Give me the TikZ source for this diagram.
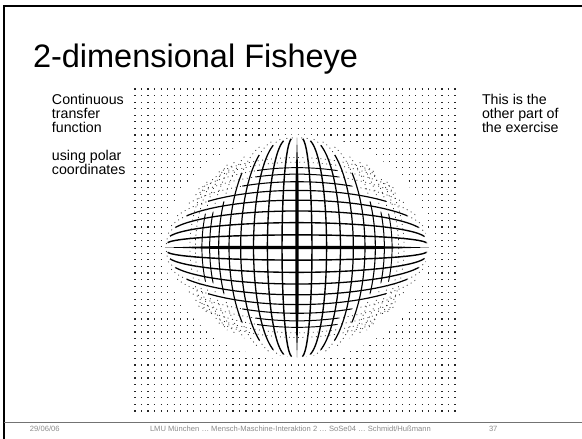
\documentclass[tikz,border=0pt]{standalone}
\usepackage{fontspec}
\setmainfont{Liberation Sans}
\pgfmathdeclarefunction{fishf}{2}{%
  \pgfmathparse{tanh(sqrt((#1)*(#1)+(#2)*(#2)))/sqrt((#1)*(#1)+(#2)*(#2))}}
\begin{document}
\begin{tikzpicture}[x=1pt,y=-1pt,
  every node/.style={inner sep=0pt, outer sep=0pt},
  title/.style={anchor=base west, font=\fontsize{32.5}{34}\selectfont},
  body/.style={anchor=base west, font=\fontsize{14.2}{15}\selectfont},
  foot/.style={anchor=base west, text=black!45, font=\fontsize{7.6}{8}\selectfont},
  dotrow/.style={line width=1.2pt, black!85, dash pattern=on 1.2pt off 5.33pt},
  fishthin/.style={line width=0.75pt, black!85, dash pattern=on 0.9pt off 3.6pt},
]
\useasboundingbox (0,0) rectangle (582,439);
\fill[white] (0,0) rectangle (582,439);
% slide frame
\draw[line width=2pt] (4,439) -- (4,6) -- (582,6);
\draw[black!55, line width=0.8pt] (4,422) -- (582,422);
% title
\node[title] (title) at (33,67) {2-dimensional Fisheye};
% left text
\node[body] (l1) at (52,104) {Continuous};
\node[body] (l2) at (52,118) {transfer};
\node[body] (l3) at (52,132) {function};
\node[body] (l4) at (52,160) {using polar};
\node[body] (l5) at (52,174) {coordinates};
% right text
\node[body] (r1) at (482,104) {This is the};
\node[body] (r2) at (482,118) {other part of};
\node[body] (r3) at (482,132) {the exercise};
% footer
\node[foot] (f1) at (30,431) {29/06/06};
\node[foot] (f2) at (150,431) {LMU München … Mensch-Maschine-Interaktion 2 … SoSe04 … Schmidt/Hußmann};
\node[foot] (f3) at (489,431) {37};
% outer dot grid
\foreach \j in {0,...,49} {
  \draw[dotrow] (134.4,{89+6.57*\j}) -- (455.6,{89+6.57*\j});
}
% fisheye region
\fill[white] (297,247.5) ellipse [x radius=133, y radius=113];
\begin{scope}
\clip (297,247.5) ellipse [x radius=132, y radius=111];
% magnified (solid) and compressed (dotted) parts of the grid lines
\foreach \k in {1,...,8} {
  \foreach \sg in {1,-1} {
    \pgfmathsetmacro\tt{\sg*0.115*\k}
    \pgfmathsetmacro\S{max(0.4,3-3.6*abs(\tt))}
    \pgfmathsetmacro\E{\S+0.9}
    \pgfmathsetmacro\lw{1.5-0.07*\k}
    % horizontal family
    \draw[line width=\lw pt] plot[domain=-\S:\S, samples=70, smooth]
      ({297+131*(\x)*fishf(\x,\tt)},{247.5+110*(\tt)*fishf(\x,\tt)});
    \draw[fishthin] plot[domain=\S:\E, samples=30, smooth]
      ({297+131*(\x)*fishf(\x,\tt)},{247.5+110*(\tt)*fishf(\x,\tt)});
    \draw[fishthin] plot[domain=-\E:-\S, samples=30, smooth]
      ({297+131*(\x)*fishf(\x,\tt)},{247.5+110*(\tt)*fishf(\x,\tt)});
    % vertical family
    \draw[line width=\lw pt] plot[domain=-\S:\S, samples=70, smooth]
      ({297+131*(\tt)*fishf(\x,\tt)},{247.5+110*(\x)*fishf(\x,\tt)});
    \draw[fishthin] plot[domain=\S:\E, samples=30, smooth]
      ({297+131*(\tt)*fishf(\x,\tt)},{247.5+110*(\x)*fishf(\x,\tt)});
    \draw[fishthin] plot[domain=-\E:-\S, samples=30, smooth]
      ({297+131*(\tt)*fishf(\x,\tt)},{247.5+110*(\x)*fishf(\x,\tt)});
  }
}
% outer compressed lines
\foreach \k in {9,10} {
  \foreach \sg in {1,-1} {
    \pgfmathsetmacro\tt{\sg*0.115*\k}
    \draw[fishthin] plot[domain=-1.0:1.0, samples=40, smooth]
      ({297+131*(\x)*fishf(\x,\tt)},{247.5+110*(\tt)*fishf(\x,\tt)});
    \draw[fishthin] plot[domain=-1.0:1.0, samples=40, smooth]
      ({297+131*(\tt)*fishf(\x,\tt)},{247.5+110*(\x)*fishf(\x,\tt)});
  }
}
\end{scope}
% central axes, tapering to the tips
\fill (297,137.5) -- (295.4,185) -- (295.4,310) -- (297,357.5) -- (298.6,310) -- (298.6,185) -- cycle;
\fill (165,247.5) -- (222,245.9) -- (372,245.9) -- (429,247.5) -- (372,249.1) -- (222,249.1) -- cycle;
\end{tikzpicture}
\end{document}
